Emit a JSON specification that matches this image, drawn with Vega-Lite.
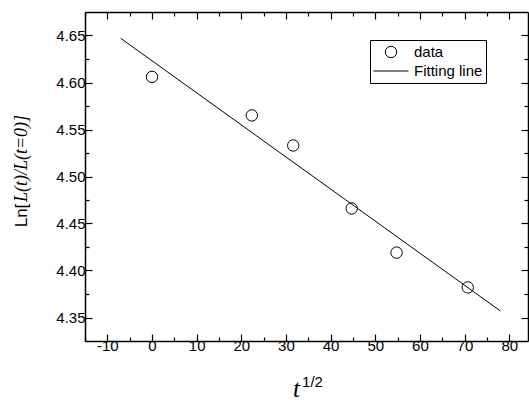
{
  "$schema": "https://vega.github.io/schema/vega-lite/v6.json",
  "autosize": "none",
  "width": 443,
  "height": 329,
  "padding": {"left": 85, "top": 12, "right": 1, "bottom": 59},
  "background": "white",
  "config": {
    "view": {"stroke": null},
    "axis": {
      "domainColor": "black", "domainWidth": 1.5, "tickColor": "black", "tickWidth": 1.2,
      "labelColor": "black", "labelFont": "Liberation Sans", "labelFontSize": 15,
      "grid": false, "titleColor": "black", "titleFontWeight": "normal"
    }
  },
  "datasets": {
    "pts": [
      {"x": 0, "y": 4.606, "series": "data"},
      {"x": 22.36, "y": 4.565, "series": "data"},
      {"x": 31.62, "y": 4.533, "series": "data"},
      {"x": 44.72, "y": 4.466, "series": "data"},
      {"x": 54.77, "y": 4.419, "series": "data"},
      {"x": 70.71, "y": 4.382, "series": "data"}
    ],
    "fit": [
      {"x": -7, "y": 4.647, "series": "Fitting line"},
      {"x": 78, "y": 4.357, "series": "Fitting line"}
    ]
  },
  "layer": [
    {
      "data": {"name": "fit"},
      "mark": {"type": "line", "color": "black", "strokeWidth": 1},
      "encoding": {
        "x": {"field": "x", "type": "quantitative", "scale": {"domain": [-15, 84.2], "nice": false, "zero": false},
          "axis": {"orient": "top", "labels": false, "title": null, "values": [-10,0,10,20,30,40,50,60,70,80], "tickSize": -7}},
        "y": {"field": "y", "type": "quantitative", "scale": {"domain": [4.325, 4.675], "nice": false, "zero": false},
          "axis": {"orient": "right", "labels": false, "title": null, "values": [4.35,4.40,4.45,4.50,4.55,4.60,4.65], "tickSize": -7}}
      }
    },
    {
      "data": {"name": "pts"},
      "mark": {"type": "point", "opacity": 0},
      "encoding": {
        "x": {"field": "x", "type": "quantitative",
          "axis": {"orient": "top", "labels": false, "domain": false, "title": null, "values": [-15,-5,5,15,25,35,45,55,65,75], "tickSize": -4}},
        "y": {"field": "y", "type": "quantitative",
          "axis": {"orient": "right", "labels": false, "domain": false, "title": null, "values": [4.375,4.425,4.475,4.525,4.575,4.625], "tickSize": -4}}
      }
    },
    {
      "data": {"name": "pts"},
      "mark": {"type": "point", "opacity": 0},
      "encoding": {
        "x": {"field": "x", "type": "quantitative",
          "axis": {"orient": "bottom", "labels": false, "domain": false, "values": [-15,-5,5,15,25,35,45,55,65,75], "tickSize": -4,
            "title": "1/2", "titleFont": "Liberation Sans", "titleFontSize": 15, "titleAlign": "center", "titleBaseline": "alphabetic", "titleX": 227, "titleY": 45}},
        "y": {"field": "y", "type": "quantitative",
          "axis": {"orient": "left", "labels": false, "domain": false, "values": [4.375,4.425,4.475,4.525,4.575,4.625], "tickSize": -4,
            "title": "L(t)/L(t=0)]", "titleFont": "Liberation Serif", "titleFontStyle": "italic", "titleFontSize": 18, "titleAlign": "center", "titleBaseline": "alphabetic", "titleAngle": -90, "titleX": -59, "titleY": 146}}
      }
    },
    {
      "data": {"name": "pts"},
      "mark": {"type": "point", "filled": false, "color": "black", "strokeWidth": 1, "opacity": 1},
      "encoding": {
        "x": {"field": "x", "type": "quantitative",
          "axis": {"orient": "bottom", "values": [-10,0,10,20,30,40,50,60,70,80],
            "labelExpr": "'' + datum.value", "labelPadding": 4, "labelFlush": false, "tickSize": -7,
            "title": "t", "titleFont": "Liberation Serif", "titleFontStyle": "italic", "titleFontSize": 25, "titleAlign": "center", "titleBaseline": "alphabetic", "titleX": 211, "titleY": 55}},
        "y": {"field": "y", "type": "quantitative",
          "axis": {"orient": "left", "values": [4.35,4.40,4.45,4.50,4.55,4.60,4.65],
            "format": ".2f", "labelPadding": 7, "tickSize": -7,
            "title": "Ln[", "titleFont": "Liberation Sans", "titleFontSize": 17, "titleAlign": "center", "titleBaseline": "alphabetic", "titleAngle": -90, "titleX": -59, "titleY": 203}},
        "shape": {"field": "series", "type": "nominal",
          "scale": {"domain": ["data", "Fitting line"], "range": ["circle", "stroke"]},
          "legend": {"title": null, "orient": "none", "legendX": 285, "legendY": 28, "strokeColor": "black", "fillColor": "white",
            "padding": 3, "labelFont": "Liberation Sans", "labelFontSize": 15, "labelColor": "black", "rowPadding": 1, "labelOffset": 5, "clipHeight": 18,
            "symbolStrokeColor": "black", "symbolStrokeWidth": 1, "symbolOpacity": 1}},
        "size": {"field": "series", "type": "nominal",
          "scale": {"domain": ["data", "Fitting line"], "range": [130, 1225]},
          "legend": {"title": null, "orient": "none", "legendX": 285, "legendY": 28, "strokeColor": "black", "fillColor": "white",
            "padding": 3, "labelFont": "Liberation Sans", "labelFontSize": 15, "labelColor": "black", "rowPadding": 1, "labelOffset": 5, "clipHeight": 18,
            "symbolStrokeColor": "black", "symbolStrokeWidth": 1, "symbolOpacity": 1}}
      }
    }
  ],
  "resolve": {"axis": {"x": "independent", "y": "independent"}}
}
